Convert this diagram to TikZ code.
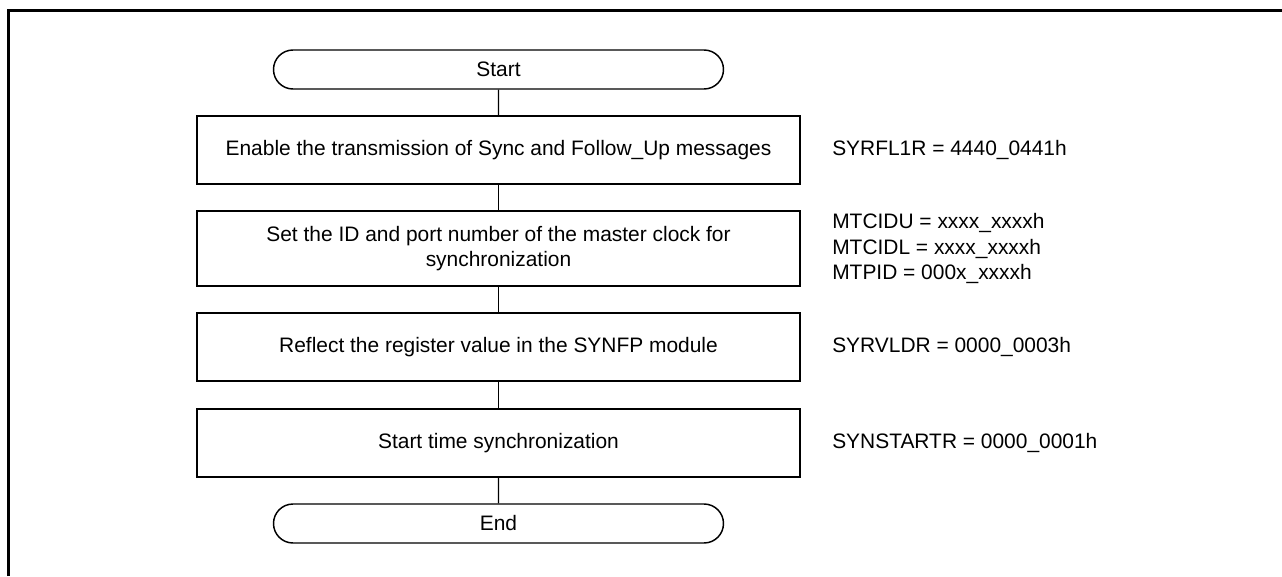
\documentclass[tikz,border=0pt]{standalone}
\usepackage{fontspec}
\setmainfont{Liberation Sans}
\usepackage{tikz}
\usetikzlibrary{positioning, shapes.misc}

\begin{document}
\begin{tikzpicture}[
          x=0.75pt, y=-0.75pt,
          term/.style={draw, line width=1.1pt, rounded rectangle, minimum width=337.5pt, minimum height=29.25pt, inner sep=0pt, font=\fontsize{15.7}{18.8}\selectfont},
          stepbox/.style={draw, line width=1.1pt, minimum width=452.25pt, minimum height=#1, inner sep=0pt, align=center, font=\fontsize{15.7}{18.8}\selectfont},
          reg/.style={anchor=west, align=left, inner sep=0pt, font=\fontsize{15.7}{18.8}\selectfont},
          link/.style={line width=1.1pt},
          frame/.style={line width=2.3pt}
        ]
        \useasboundingbox (0,0) rectangle (1282,576);
        \draw[frame] (8.5,576) -- (8.5,10.5) -- (1282,10.5);
        \node[term] (start) at (498.5, 69.5) {Start};
        \node[stepbox=51pt] (enable) at (498.5, 150) {Enable the transmission of Sync and Follow\_Up messages};
        \node[stepbox=56.25pt] (master) at (498.5, 248.5) {Set the ID and port number of the master clock for\\synchronization};
        \node[stepbox=51pt] (reflect) at (498.5, 347) {Reflect the register value in the SYNFP module};
        \node[stepbox=51pt] (sync) at (498.5, 443) {Start time synchronization};
        \node[term] (end) at (498.5, 523.5) {End};
        \node[reg] (syrfl) at (832, 150) {SYRFL1R = 4440\_0441h};
        \node[reg] (mtcid) at (832, 248.5) {MTCIDU = xxxx\_xxxxh\\MTCIDL = xxxx\_xxxxh\\MTPID = 000x\_xxxxh};
        \node[reg] (syrvldr) at (832, 347) {SYRVLDR = 0000\_0003h};
        \node[reg] (synstart) at (832, 443) {SYNSTARTR = 0000\_0001h};
        \draw[link] (start) -- (enable);
        \draw[link] (enable) -- (master);
        \draw[link] (master) -- (reflect);
        \draw[link] (reflect) -- (sync);
        \draw[link] (sync) -- (end);
        \end{tikzpicture}
\end{document}
